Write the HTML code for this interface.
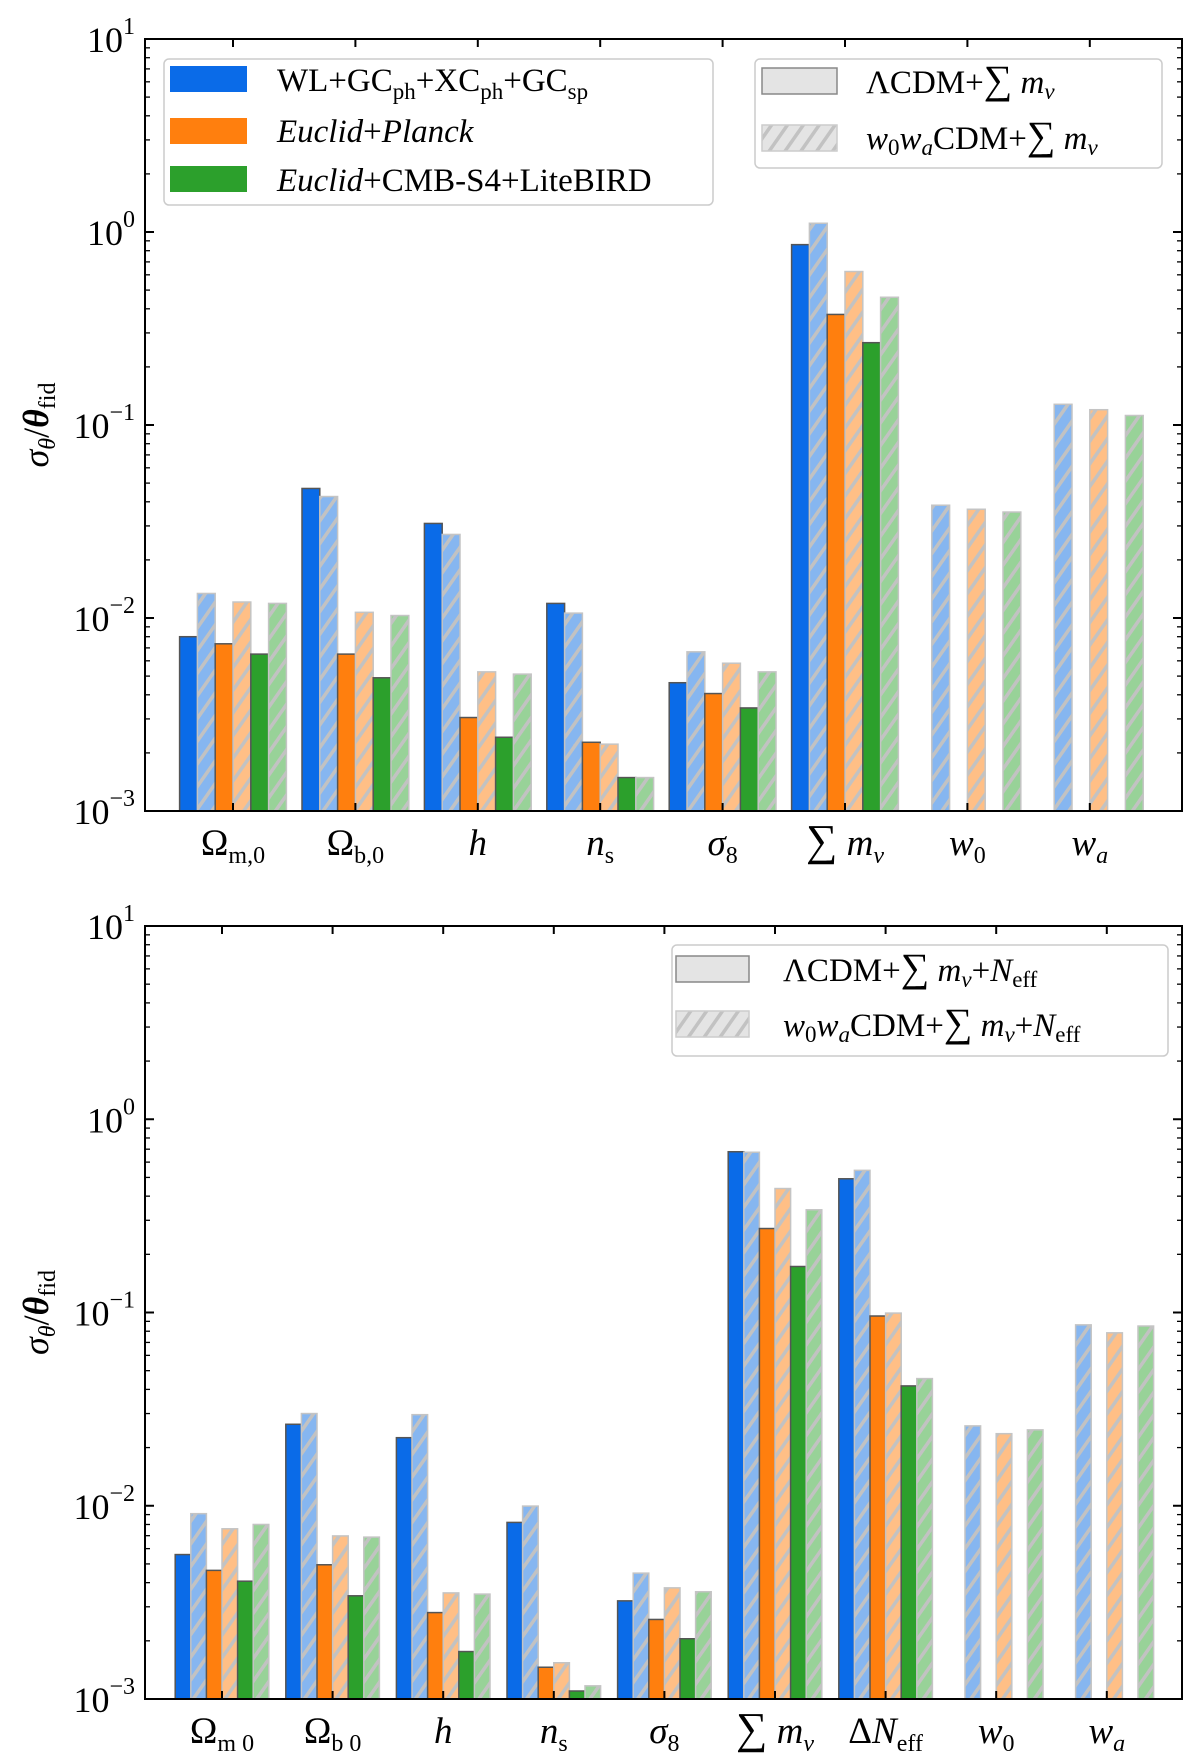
<!DOCTYPE html>
<html><head><meta charset="utf-8">
<style>
html,body{margin:0;padding:0;background:#fff;}
svg{display:block;font-family:"Liberation Serif","DejaVu Serif",serif;}
</style></head>
<body>
<svg id="fig" width="1200" height="1764" viewBox="0 0 1200 1764" xmlns="http://www.w3.org/2000/svg">
<defs>
<pattern id="hb" patternUnits="userSpaceOnUse" width="13" height="13" patternTransform="rotate(35)">
<rect width="13" height="13" fill="#86b6f0"/><rect x="0" y="0" width="3.5" height="13" fill="#c2c2c2"/></pattern>
<pattern id="ho" patternUnits="userSpaceOnUse" width="13" height="13" patternTransform="rotate(35)">
<rect width="13" height="13" fill="#ffbf86"/><rect x="0" y="0" width="3.5" height="13" fill="#c2c2c2"/></pattern>
<pattern id="hg" patternUnits="userSpaceOnUse" width="13" height="13" patternTransform="rotate(35)">
<rect width="13" height="13" fill="#98d298"/><rect x="0" y="0" width="3.5" height="13" fill="#c2c2c2"/></pattern>
<pattern id="hw" patternUnits="userSpaceOnUse" width="13" height="13" patternTransform="rotate(35)">
<rect width="13" height="13" fill="#e4e4e4"/><rect x="0" y="0" width="3.5" height="13" fill="#c2c2c2"/></pattern>
</defs>
<g id="p1"></g>
<g id="p2"></g>

<!-- top legends -->
<g>
<rect x="164" y="59" width="549" height="146" rx="5" fill="#fff" stroke="#ccc" stroke-width="1.5"/>
<rect x="170" y="66" width="77" height="26" fill="#0a6be8"/>
<rect x="170" y="118" width="77" height="26" fill="#ff7f0e"/>
<rect x="170" y="166" width="77" height="26" fill="#2ca02c"/>
<text x="277" y="91" font-size="33">WL+GC<tspan font-size="23" dy="8">ph</tspan><tspan dy="-8">+XC</tspan><tspan font-size="23" dy="8">ph</tspan><tspan dy="-8">+GC</tspan><tspan font-size="23" dy="8">sp</tspan></text>
<text x="277" y="142" font-size="33"><tspan font-style="italic">Euclid</tspan>+<tspan font-style="italic">Planck</tspan></text>
<text x="277" y="191" font-size="33"><tspan font-style="italic">Euclid</tspan>+CMB-S4+LiteBIRD</text>
</g>
<g>
<rect x="755" y="59" width="407" height="109" rx="5" fill="#fff" stroke="#ccc" stroke-width="1.5"/>
<rect x="762" y="68" width="75" height="26" fill="#e4e4e4" stroke="#888" stroke-width="1.5"/>
<rect x="762" y="125" width="75" height="26" fill="url(#hw)" stroke="#ccc" stroke-width="1.5"/>
<text x="866" y="93" font-size="33">ΛCDM+<tspan font-size="40">∑</tspan><tspan font-style="italic"> m</tspan><tspan font-size="23" font-style="italic" dy="6">ν</tspan></text>
<text x="866" y="149" font-size="33"><tspan font-style="italic">w</tspan><tspan font-size="23" dy="6">0</tspan><tspan font-style="italic" dy="-6">w</tspan><tspan font-size="23" font-style="italic" dy="6">a</tspan><tspan dy="-6">CDM+</tspan><tspan font-size="40">∑</tspan><tspan font-style="italic"> m</tspan><tspan font-size="23" font-style="italic" dy="6">ν</tspan></text>
</g>
<g>
<rect x="672" y="945" width="496" height="111" rx="5" fill="#fff" stroke="#ccc" stroke-width="1.5"/>
<rect x="676" y="956" width="73" height="26" fill="#e4e4e4" stroke="#888" stroke-width="1.5"/>
<rect x="676" y="1011" width="73" height="26" fill="url(#hw)" stroke="#ccc" stroke-width="1.5"/>
<text x="783" y="981" font-size="33">ΛCDM+<tspan font-size="40">∑</tspan><tspan font-style="italic"> m</tspan><tspan font-size="23" font-style="italic" dy="6">ν</tspan><tspan dy="-6">+</tspan><tspan font-style="italic">N</tspan><tspan font-size="23" dy="6">eff</tspan></text>
<text x="783" y="1036" font-size="33"><tspan font-style="italic">w</tspan><tspan font-size="23" dy="6">0</tspan><tspan font-style="italic" dy="-6">w</tspan><tspan font-size="23" font-style="italic" dy="6">a</tspan><tspan dy="-6">CDM+</tspan><tspan font-size="40">∑</tspan><tspan font-style="italic"> m</tspan><tspan font-size="23" font-style="italic" dy="6">ν</tspan><tspan dy="-6">+</tspan><tspan font-style="italic">N</tspan><tspan font-size="23" dy="6">eff</tspan></text>
</g>
</svg>
<script>
// ---- data ----
const cats1 = ["Ωm,0","Ωb,0","h","ns","σ8","∑mν","w0","wa"];
const blue1      = [8.0e-3, 0.0469, 0.0309, 0.0119, 4.62e-3, 0.86, null, null];
const blueW1     = [1.34e-2, 0.0426, 0.0271, 0.0106, 6.68e-3, 1.11, 0.0384, 0.128];
const orange1    = [7.35e-3, 6.5e-3, 3.05e-3, 2.27e-3, 4.06e-3, 0.374, null, null];
const orangeW1   = [1.21e-2, 0.0107, 5.26e-3, 2.22e-3, 5.83e-3, 0.624, 0.0366, 0.120];
const green1     = [6.5e-3, 4.9e-3, 2.41e-3, 1.49e-3, 3.42e-3, 0.267, null, null];
const greenW1    = [1.19e-2, 0.0103, 5.12e-3, 1.49e-3, 5.26e-3, 0.459, 0.0354, 0.112];

const cats2 = ["Ωm0","Ωb0","h","ns","σ8","∑mν","ΔNeff","w0","wa"];
const blue2      = [5.59e-3, 0.0264, 0.0225, 8.2e-3, 3.22e-3, 0.679, 0.492, null, null];
const blueW2     = [9.1e-3, 0.030, 0.0296, 9.96e-3, 4.48e-3, 0.675, 0.544, 0.0259, 0.0863];
const orange2    = [4.63e-3, 4.95e-3, 2.8e-3, 1.46e-3, 2.58e-3, 0.272, 0.0959, null, null];
const orangeW2   = [7.6e-3, 6.98e-3, 3.54e-3, 1.54e-3, 3.76e-3, 0.438, 0.0993, 0.0236, 0.0785];
const green2     = [4.07e-3, 3.42e-3, 1.76e-3, 1.1e-3, 2.05e-3, 0.173, 0.0417, null, null];
const greenW2    = [8.0e-3, 6.88e-3, 3.49e-3, 1.17e-3, 3.59e-3, 0.34, 0.0455, 0.0247, 0.0851];

const yTicks = [-3,-2,-1,0,1];

const NS="http://www.w3.org/2000/svg";
function mk(tag, attrs, parent){const e=document.createElementNS(NS,tag);for(const k in attrs)e.setAttribute(k,attrs[k]);parent.appendChild(e);return e;}

const catLabelHTML = {
 "Ωm,0":'Ω<tspan font-size="24" dy="8">m,0</tspan>',
 "Ωb,0":'Ω<tspan font-size="24" dy="8">b,0</tspan>',
 "Ωm0":'Ω<tspan font-size="24" dy="8">m 0</tspan>',
 "Ωb0":'Ω<tspan font-size="24" dy="8">b 0</tspan>',
 "h":'<tspan font-style="italic">h</tspan>',
 "ns":'<tspan font-style="italic">n</tspan><tspan font-size="24" dy="8">s</tspan>',
 "σ8":'<tspan font-style="italic">σ</tspan><tspan font-size="24" dy="8">8</tspan>',
 "∑mν":'<tspan font-size="44">∑</tspan><tspan font-style="italic"> m</tspan><tspan font-size="24" font-style="italic" dy="8">ν</tspan>',
 "ΔNeff":'Δ<tspan font-style="italic">N</tspan><tspan font-size="24" dy="8">eff</tspan>',
 "w0":'<tspan font-style="italic">w</tspan><tspan font-size="24" dy="8">0</tspan>',
 "wa":'<tspan font-style="italic">w</tspan><tspan font-size="24" font-style="italic" dy="8">a</tspan>'
};

function panel(g, L, T, R, B, cats, series, x0, dx, bw){
  const yS = v => B - (Math.log10(v)+3)*(B-T)/4;
  const xS = i => x0 + i*dx;
  const fills=["#0a6be8","url(#hb)","#ff7f0e","url(#ho)","#2ca02c","url(#hg)"];
  const names=["bar-combined","bar-combined-w0wa","bar-euclid-planck","bar-euclid-planck-w0wa","bar-euclid-cmbs4","bar-euclid-cmbs4-w0wa"];
  series.forEach((arr,j)=>{
    arr.forEach((v,i)=>{
      if(v==null) return;
      const x = xS(i) + (j-3)*bw;
      const y = yS(v);
      const r = mk('rect',{x:x,y:y,width:bw,height:B-y,fill:fills[j],stroke:(j%2? "#c4c4c4":"#555"),'stroke-width':1.5},g);
      
      
    });
  });
  const fr = mk('rect',{x:L,y:T,width:R-L,height:B-T,fill:'none',stroke:'#000','stroke-width':2},g);
  
  
  yTicks.forEach(k=>{
    const y = B - (k+3)*(B-T)/4;
    mk('line',{x1:L,x2:L+9,y1:y,y2:y,stroke:'#000','stroke-width':2},g);
    mk('line',{x1:R,x2:R-9,y1:y,y2:y,stroke:'#000','stroke-width':2},g);
    const t = mk('text',{x:L-10,y:y+13,'font-size':36,'text-anchor':'end'},g);
    t.innerHTML = '10<tspan font-size="24" dy="-18">'+(k<0?'−'+(-k):k)+'</tspan>';
    
    
    if(k<1){
      for(let m=2;m<10;m++){
        const ym = y - Math.log10(m)*(B-T)/4;
        mk('line',{x1:L,x2:L+5,y1:ym,y2:ym,stroke:'#000','stroke-width':1.3},g);
        mk('line',{x1:R,x2:R-5,y1:ym,y2:ym,stroke:'#000','stroke-width':1.3},g);
      }
    }
  });
  cats.forEach((c,i)=>{
    const x = xS(i);
    mk('line',{x1:x,x2:x,y1:B,y2:B-8,stroke:'#000','stroke-width':2},g);
    mk('line',{x1:x,x2:x,y1:T,y2:T+8,stroke:'#000','stroke-width':2},g);
    const t = mk('text',{x:x,y:B+44,'font-size':37,'text-anchor':'middle'},g);
    t.innerHTML = catLabelHTML[c];
    
    
  });
  const yl = mk('text',{x:0,y:0,'font-size':36,'text-anchor':'middle',transform:'translate(48,'+((T+B)/2)+') rotate(-90)'},g);
  yl.innerHTML = '<tspan font-style="italic">σ</tspan><tspan font-size="24" font-style="italic" dy="7">θ</tspan><tspan dy="-7">/</tspan><tspan font-style="italic" font-weight="bold">θ</tspan><tspan font-size="24" dy="7">fid</tspan>';
  
  
}
panel(document.getElementById('p1'),145,39,1182,811,cats1,[blue1,blueW1,orange1,orangeW1,green1,greenW1],233,122.4,17.8);
panel(document.getElementById('p2'),145,926,1182,1699,cats2,[blue2,blueW2,orange2,orangeW2,green2,greenW2],222,110.6,15.6);
</script>
</body></html>
